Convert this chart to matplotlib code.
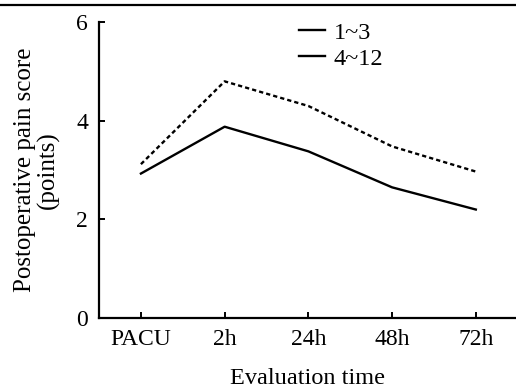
import matplotlib
matplotlib.use("Agg")
import matplotlib.pyplot as plt
from matplotlib.lines import Line2D

times = ['PACU', '2h', '24h', '48h', '72h']
group_1_3 = [2.93, 3.88, 3.38, 2.65, 2.20]
group_4_12 = [3.12, 4.80, 4.30, 3.48, 2.97]
legend_labels = ['1~3', '4~12']

plt.rcParams['font.family'] = 'serif'
plt.rcParams['font.serif'] = ['Liberation Serif', 'Times New Roman', 'DejaVu Serif']

fig = plt.figure(figsize=(5.16, 3.89), dpi=100)
ax = fig.add_axes([0.192, 0.1825, 0.808, 0.7605])

x = range(len(times))
ax.plot(x, group_1_3, color='black', lw=1.7, ls='-')
ax.plot(x, group_4_12, color='black', lw=1.7, ls=(0, (1.8, 1.3)))

ax.set_xlim(-0.5, 4.48)
ax.set_ylim(0, 6)
ax.set_xticks(list(x))
ax.set_xticklabels(times)
ax.set_yticks([0, 2, 4, 6])

ax.spines['top'].set_visible(False)
ax.spines['right'].set_visible(False)
ax.spines['left'].set_linewidth(1.6)
ax.spines['bottom'].set_linewidth(1.6)
ax.tick_params(direction='in', length=4, width=1.4, labelsize=17, pad=8)

ax.set_xlabel('Evaluation time', fontsize=17.5, labelpad=13)
ax.set_ylabel('Postoperative pain score\n(points)', fontsize=18, labelpad=12,
              linespacing=1.0)

# legend shows both entries as solid lines
handles = [Line2D([], [], color='black', lw=1.7),
           Line2D([], [], color='black', lw=1.7)]
ax.legend(handles, legend_labels, loc='upper left', bbox_to_anchor=(0.426, 1.075),
          frameon=False, fontsize=17.5, handlelength=1.1, handletextpad=0.35,
          labelspacing=0.15)

# rule across the top of the page
fig.add_artist(Line2D([0, 1], [0.987, 0.987], transform=fig.transFigure,
                      color='black', lw=1.6))

fig.savefig('out.png', dpi=100)
